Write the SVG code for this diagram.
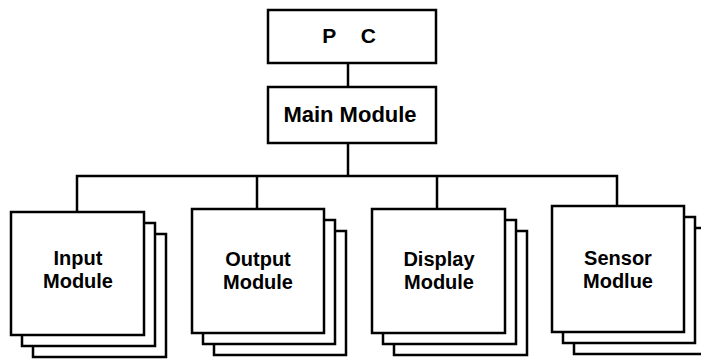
<svg xmlns="http://www.w3.org/2000/svg" width="701" height="360" viewBox="0 0 701 360">
<style>
.box{fill:#fff;stroke:#000;stroke-width:2.5}
.wire{fill:none;stroke:#000;stroke-width:2.5}
.lbl{font-family:"Liberation Sans",Arial,sans-serif;font-weight:bold;font-size:20px;text-anchor:middle;fill:#000}
</style>
<rect width="701" height="360" fill="#fff"/>
<g id="connectors">
<line class="wire" x1="348" y1="63" x2="348" y2="87"/>
<line class="wire" x1="348" y1="143" x2="348" y2="176"/>
<polyline class="wire" points="77,212 77,176 617,176 617,206"/>
<line class="wire" x1="257" y1="176" x2="257" y2="209"/>
<line class="wire" x1="437" y1="176" x2="437" y2="209"/>
</g>
<g id="pc">
<rect class="box" x="268" y="10" width="168" height="53"/>
<text class="lbl" x="349" y="43" word-spacing="19" style="font-size:21px">P C</text>
</g>
<g id="main">
<rect class="box" x="268" y="87" width="168" height="56"/>
<text class="lbl" x="350" y="122" style="font-size:22px">Main Module</text>
</g>
<g id="input">
<rect class="box" x="33" y="234" width="133" height="123"/>
<rect class="box" x="22" y="223" width="133" height="123"/>
<rect class="box" x="11" y="212" width="133" height="123"/>
<text class="lbl" x="78" y="265">Input</text>
<text class="lbl" x="78" y="288">Module</text>
</g>
<g id="output">
<rect class="box" x="214" y="231" width="132" height="124"/>
<rect class="box" x="203" y="220" width="132" height="124"/>
<rect class="box" x="192" y="209" width="132" height="124"/>
<text class="lbl" x="258" y="266">Output</text>
<text class="lbl" x="258" y="289">Module</text>
</g>
<g id="display">
<rect class="box" x="394" y="231" width="133" height="124"/>
<rect class="box" x="383" y="220" width="133" height="124"/>
<rect class="box" x="372" y="209" width="133" height="124"/>
<text class="lbl" x="439" y="266">Display</text>
<text class="lbl" x="439" y="289">Module</text>
</g>
<g id="sensor">
<rect class="box" x="574" y="228" width="132" height="126"/>
<rect class="box" x="563" y="217" width="132" height="126"/>
<rect class="box" x="552" y="206" width="132" height="126"/>
<text class="lbl" x="618" y="265">Sensor</text>
<text class="lbl" x="618" y="288">Modlue</text>
</g>
</svg>
